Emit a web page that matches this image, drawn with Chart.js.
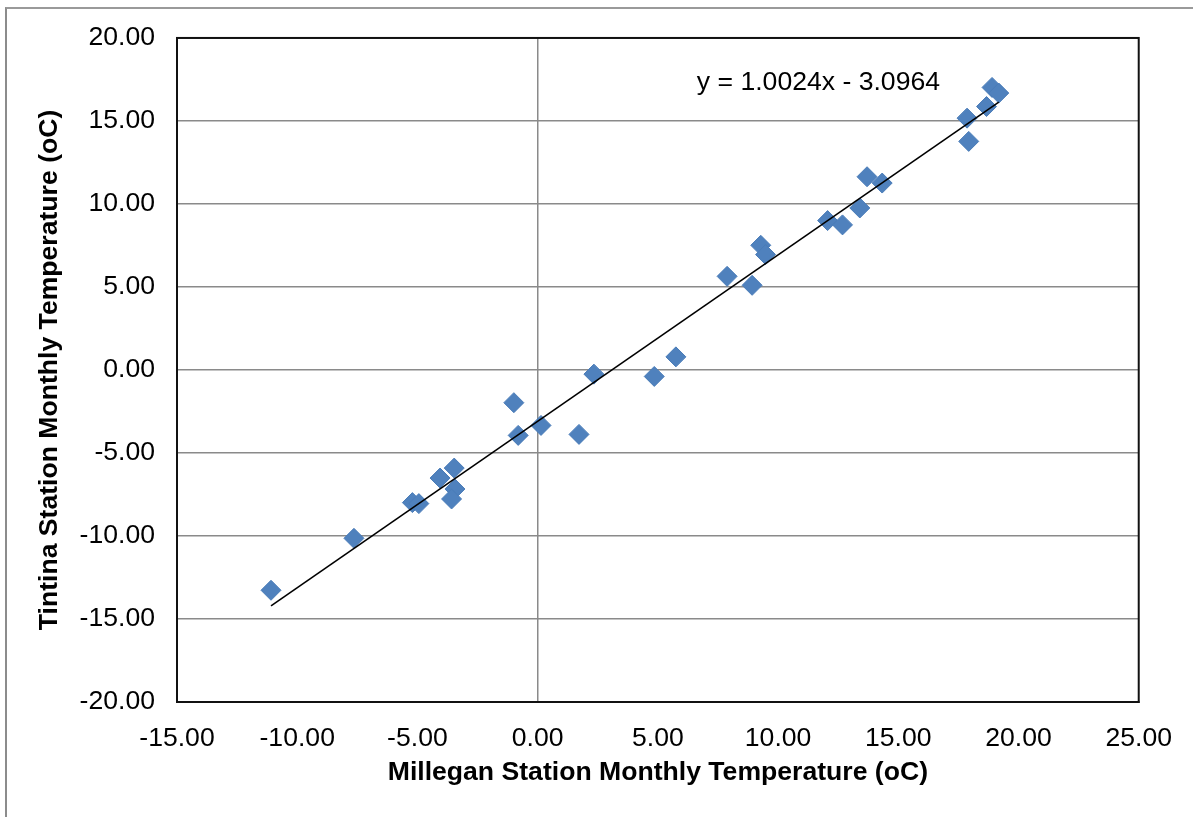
<!DOCTYPE html>
<html>
<head>
<meta charset="utf-8">
<script src="https://cdn.jsdelivr.net/npm/chart.js@4/dist/chart.umd.min.js"></script>
<style>
  html, body { margin: 0; padding: 0; background: #fff; overflow: hidden; }
  #wrap { position: relative; width: 1193px; height: 817px; }
  #frame { position: absolute; left: 5px; top: 7px; width: 1300px; height: 900px;
           border-left: 2px solid #8c8c8c; border-top: 2px solid #9a9a9a; pointer-events: none; }
  canvas { position: absolute; left: 0; top: 0; }
</style>
</head>
<body>
<div id="wrap">
  <canvas id="c" width="1193" height="817"></canvas>
  <div id="frame"></div>
</div>
<script>
// Millegan Station monthly temperature (x) and Tintina Station monthly temperature (y), in °C
const millegan = [-11.09, -7.64, -5.21, -4.94, -4.06, -3.47, -3.44, -3.58, -0.99, -0.81,
                  0.14, 1.72, 2.34, 4.85, 5.75, 7.88, 8.92, 9.28, 9.48, 12.06,
                  12.68, 13.40, 13.70, 14.33, 17.86, 17.93, 18.67, 18.90, 19.18];
const tintina  = [-13.27, -10.14, -7.99, -8.05, -6.51, -5.91, -7.17, -7.77, -1.97, -3.94,
                  -3.34, -3.88, -0.25, -0.39, 0.79, 5.64, 5.10, 7.51, 6.95, 9.00,
                  8.74, 9.76, 11.64, 11.26, 15.17, 13.77, 15.87, 17.02, 16.68];
// Linear trendline shown on the chart
const trendSlope = 1.0024;
const trendIntercept = -3.0964;
// Axis ranges / tick steps
const xRange = [-15, 25];
const yRange = [-20, 20];
const tickStep = 5;
const xTitle = 'Millegan Station Monthly Temperature (oC)';
const yTitle = 'Tintina Station Monthly Temperature (oC)';
const equationText = 'y = ' + trendSlope.toFixed(4) + 'x - ' + Math.abs(trendIntercept).toFixed(4);
const equationAnchor = [6.62, 17.3];

const points = millegan.map((x, i) => ({ x: x, y: tintina[i] }));
const xMin = Math.min(...millegan), xMax = Math.max(...millegan);
const trend = [xMin, xMax].map(x => ({ x: x, y: trendSlope * x + trendIntercept }));

const FONT = "'Liberation Sans', Arial, sans-serif";
const FS = 26.6;

const plotBorder = {
  id: 'plotBorder',
  beforeDatasetsDraw(chart) {
    const a = chart.chartArea, ctx = chart.ctx;
    ctx.save();
    ctx.strokeStyle = '#111';
    ctx.lineWidth = 2;
    ctx.strokeRect(a.left, a.top, a.right - a.left, a.bottom - a.top);
    ctx.restore();
  }
};
const equationLabel = {
  id: 'equationLabel',
  afterDatasetsDraw(chart) {
    const ctx = chart.ctx;
    const px = chart.scales.x.getPixelForValue(equationAnchor[0]);
    const py = chart.scales.y.getPixelForValue(equationAnchor[1]);
    ctx.save();
    ctx.font = FS + 'px ' + FONT;
    ctx.fillStyle = '#000';
    ctx.textAlign = 'left';
    ctx.textBaseline = 'middle';
    ctx.fillText(equationText, px, py);
    ctx.restore();
  }
};

new Chart(document.getElementById('c'), {
  type: 'scatter',
  data: {
    datasets: [
      {
        type: 'line',
        data: trend,
        borderColor: '#000',
        borderWidth: 1.6,
        pointRadius: 0,
        fill: false,
        order: 0
      },
      {
        data: points,
        pointStyle: 'rectRot',
        pointRadius: 10,
        pointBackgroundColor: '#4F81BD',
        pointBorderColor: '#4a7cb8',
        pointBorderWidth: 1,
        order: 1
      }
    ]
  },
  options: {
    responsive: false,
    animation: false,
    devicePixelRatio: 1,
    layout: { padding: { left: 0, top: 37, right: 50, bottom: 0 } },
    plugins: { legend: { display: false }, tooltip: { enabled: false } },
    scales: {
      x: {
        type: 'linear',
        min: xRange[0], max: xRange[1],
        afterFit(s) { s.height = 115; },
        ticks: {
          stepSize: tickStep,
          padding: 21,
          color: '#000',
          font: { family: FONT, size: FS },
          callback: v => Number(v).toFixed(2),
          maxRotation: 0
        },
        grid: {
          drawTicks: false,
          lineWidth: 1.5,
          color: c => (c.tick && c.tick.value === 0) ? '#8a8a8a' : 'rgba(0,0,0,0)'
        },
        border: { display: true, color: '#111', width: 2 },
        title: {
          display: true,
          text: xTitle,
          color: '#000',
          font: { family: FONT, size: FS, weight: 'bold' },
          padding: { top: 0, bottom: 28 }
        }
      },
      y: {
        type: 'linear',
        min: yRange[0], max: yRange[1],
        afterFit(s) { s.width = 177; },
        ticks: {
          stepSize: tickStep,
          padding: 22,
          color: '#000',
          font: { family: FONT, size: FS },
          callback: v => Number(v).toFixed(2)
        },
        grid: { drawTicks: false, lineWidth: 1.5, color: '#8a8a8a' },
        border: { display: true, color: '#111', width: 2 },
        title: {
          display: true,
          text: yTitle,
          color: '#000',
          font: { family: FONT, size: FS, weight: 'bold' },
          padding: { top: 34, bottom: 0 }
        }
      }
    }
  },
  plugins: [plotBorder, equationLabel]
});
</script>
</body>
</html>
